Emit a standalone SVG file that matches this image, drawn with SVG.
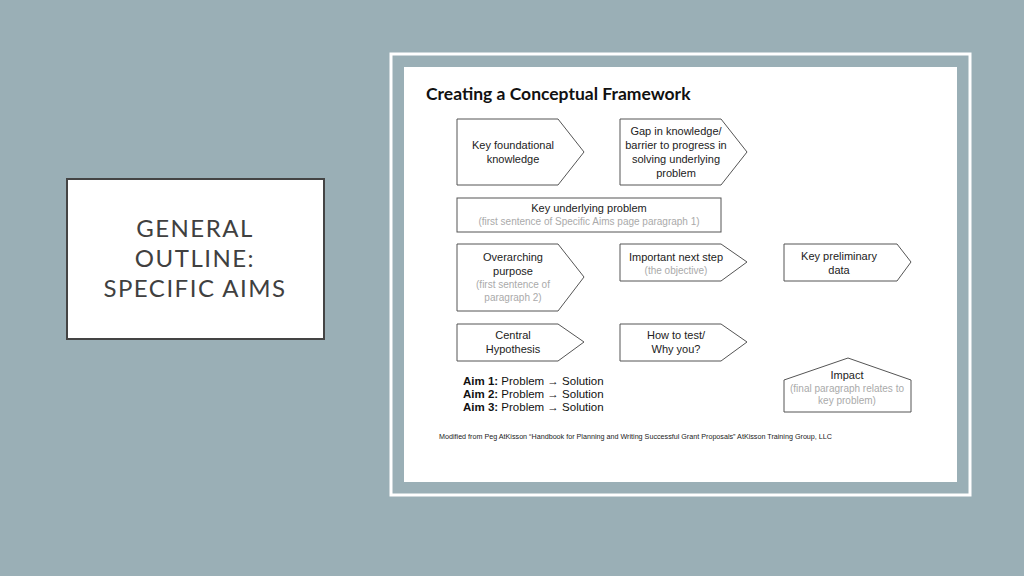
<svg xmlns="http://www.w3.org/2000/svg" width="1024" height="576" viewBox="0 0 1024 576">
<style>
.s{fill:#fff;stroke:#555;stroke-width:1}
.t{font-family:"Liberation Sans",Arial,sans-serif;font-size:11px;fill:#222;text-anchor:middle}
.g{font-family:"Liberation Sans",Arial,sans-serif;font-size:10px;fill:#aaa;text-anchor:middle}
.a{font-family:"Liberation Sans",Arial,sans-serif;font-size:11.5px;fill:#111}
</style>
<rect width="1024" height="576" fill="#9aafb6"/>
<g id="title-box">
<rect x="67" y="179" width="257" height="160" fill="#fff" stroke="#444" stroke-width="2"/>
<g font-family="Lato,sans-serif" font-size="24" fill="#404040" text-anchor="middle" letter-spacing="1.5">
<text x="195" y="237">GENERAL</text><text x="195" y="267">OUTLINE:</text><text x="195" y="297">SPECIFIC AIMS</text></g>
</g>
<g id="frame">
<rect x="391" y="54" width="579" height="441" fill="#9aafb6" stroke="#fff" stroke-width="3"/>
<rect x="404" y="67" width="553" height="415" fill="#fff"/>
<text x="426" y="100" font-family="Lato,sans-serif" font-weight="bold" font-size="17.5" fill="#111">Creating a Conceptual Framework</text>
</g>
<g id="n1"><polygon class="s" points="457,119 558,119 584,152 558,185 457,185"/><text class="t" x="513" y="149">Key foundational</text><text class="t" x="513" y="163">knowledge</text></g>
<g id="n2"><polygon class="s" points="620,119 721,119 747,152 721,185 620,185"/><text class="t" x="676" y="135">Gap in knowledge/</text><text class="t" x="676" y="149">barrier to progress in</text><text class="t" x="676" y="163">solving underlying</text><text class="t" x="676" y="177">problem</text></g>
<g id="n3"><rect class="s" x="457" y="198" width="264" height="34"/><text class="t" x="589" y="212">Key underlying problem</text><text class="g" x="589" y="225">(first sentence of Specific Aims page paragraph  1)</text></g>
<g id="n4"><polygon class="s" points="457,244 558,244 584,277 558,311 457,311"/><text class="t" x="513" y="261">Overarching</text><text class="t" x="513" y="275">purpose</text><text class="g" x="513" y="288">(first sentence of</text><text class="g" x="513" y="301">paragraph 2)</text></g>
<g id="n5"><polygon class="s" points="620,244 721,244 747,262 721,281 620,281"/><text class="t" x="676" y="261">Important next step</text><text class="g" x="676" y="274">(the objective)</text></g>
<g id="n6"><polygon class="s" points="784,244 897,244 911,262 897,281 784,281"/><text class="t" x="839" y="260">Key preliminary</text><text class="t" x="839" y="274">data</text></g>
<g id="n7"><polygon class="s" points="457,324 558,324 584,342 558,361 457,361"/><text class="t" x="513" y="339">Central</text><text class="t" x="513" y="353">Hypothesis</text></g>
<g id="n8"><polygon class="s" points="620,324 721,324 747,342 721,361 620,361"/><text class="t" x="676" y="339">How to test/</text><text class="t" x="676" y="353">Why you?</text></g>
<g id="n9"><polygon class="s" points="784,380 848,358 911,380 911,412 784,412"/><text class="t" x="847" y="379">Impact</text><text class="g" x="847" y="392">(final paragraph  relates to</text><text class="g" x="847" y="404">key problem)</text></g>
<g id="aims" class="a">
<text x="463" y="385"><tspan font-weight="bold">Aim 1:</tspan> Problem  → Solution</text>
<text x="463" y="398"><tspan font-weight="bold">Aim 2:</tspan> Problem  → Solution</text>
<text x="463" y="411"><tspan font-weight="bold">Aim 3:</tspan> Problem  → Solution</text>
</g>
<g id="connectors"/>
<text x="439" y="439" font-family="Liberation Sans,Arial,sans-serif" font-size="7" fill="#222" textLength="393" lengthAdjust="spacingAndGlyphs">Modified from Peg AtKisson “Handbook for Planning and Writing Successful Grant Proposals” AtKisson Training Group, LLC</text>
</svg>
